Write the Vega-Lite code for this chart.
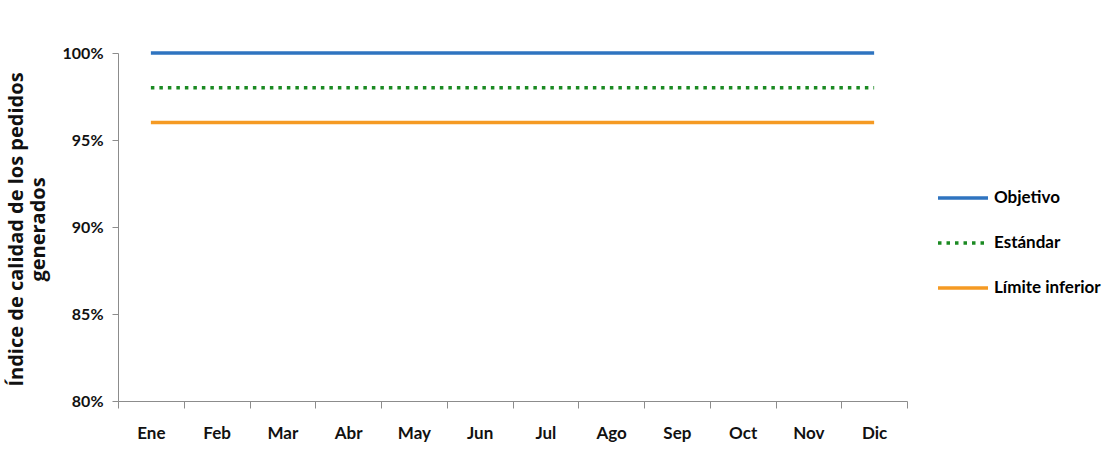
{
  "$schema": "https://vega.github.io/schema/vega-lite/v6.json",
  "autosize": {"type": "none"},
  "width": 789,
  "height": 348,
  "padding": {"left": 118, "top": 53, "right": 200, "bottom": 49},
  "background": "white",
  "config": {
    "view": {"stroke": null},
    "font": "Lato",
    "axis": {"grid": false, "domainColor": "#8c8c8c", "tickColor": "#8c8c8c", "labelFont": "Lato", "labelFontWeight": "bold", "labelColor": "#111111", "titleFont": "Open Sans"}
  },
  "data": {
    "values": [
      {"mes": "Ene", "serie": "Objetivo", "valor": 1.0},
      {"mes": "Feb", "serie": "Objetivo", "valor": 1.0},
      {"mes": "Mar", "serie": "Objetivo", "valor": 1.0},
      {"mes": "Abr", "serie": "Objetivo", "valor": 1.0},
      {"mes": "May", "serie": "Objetivo", "valor": 1.0},
      {"mes": "Jun", "serie": "Objetivo", "valor": 1.0},
      {"mes": "Jul", "serie": "Objetivo", "valor": 1.0},
      {"mes": "Ago", "serie": "Objetivo", "valor": 1.0},
      {"mes": "Sep", "serie": "Objetivo", "valor": 1.0},
      {"mes": "Oct", "serie": "Objetivo", "valor": 1.0},
      {"mes": "Nov", "serie": "Objetivo", "valor": 1.0},
      {"mes": "Dic", "serie": "Objetivo", "valor": 1.0},
      {"mes": "Ene", "serie": "Estándar", "valor": 0.98},
      {"mes": "Feb", "serie": "Estándar", "valor": 0.98},
      {"mes": "Mar", "serie": "Estándar", "valor": 0.98},
      {"mes": "Abr", "serie": "Estándar", "valor": 0.98},
      {"mes": "May", "serie": "Estándar", "valor": 0.98},
      {"mes": "Jun", "serie": "Estándar", "valor": 0.98},
      {"mes": "Jul", "serie": "Estándar", "valor": 0.98},
      {"mes": "Ago", "serie": "Estándar", "valor": 0.98},
      {"mes": "Sep", "serie": "Estándar", "valor": 0.98},
      {"mes": "Oct", "serie": "Estándar", "valor": 0.98},
      {"mes": "Nov", "serie": "Estándar", "valor": 0.98},
      {"mes": "Dic", "serie": "Estándar", "valor": 0.98},
      {"mes": "Ene", "serie": "Límite inferior", "valor": 0.96},
      {"mes": "Feb", "serie": "Límite inferior", "valor": 0.96},
      {"mes": "Mar", "serie": "Límite inferior", "valor": 0.96},
      {"mes": "Abr", "serie": "Límite inferior", "valor": 0.96},
      {"mes": "May", "serie": "Límite inferior", "valor": 0.96},
      {"mes": "Jun", "serie": "Límite inferior", "valor": 0.96},
      {"mes": "Jul", "serie": "Límite inferior", "valor": 0.96},
      {"mes": "Ago", "serie": "Límite inferior", "valor": 0.96},
      {"mes": "Sep", "serie": "Límite inferior", "valor": 0.96},
      {"mes": "Oct", "serie": "Límite inferior", "valor": 0.96},
      {"mes": "Nov", "serie": "Límite inferior", "valor": 0.96},
      {"mes": "Dic", "serie": "Límite inferior", "valor": 0.96}
    ]
  },
  "mark": {"type": "line", "strokeWidth": 3.5},
  "encoding": {
    "x": {
      "field": "mes", "type": "ordinal",
      "sort": ["Ene", "Feb", "Mar", "Abr", "May", "Jun", "Jul", "Ago", "Sep", "Oct", "Nov", "Dic"],
      "scale": {"type": "band", "paddingInner": 0, "paddingOuter": 0},
      "axis": {"title": null, "labelAngle": 0, "tickBand": "extent", "tickSize": 7, "labelPadding": 17, "labelFontSize": 17}
    },
    "y": {
      "field": "valor", "type": "quantitative",
      "scale": {"domain": [0.8, 1.0], "nice": false, "zero": false},
      "axis": {
        "values": [0.8, 0.85, 0.9, 0.95, 1.0], "format": ".0%",
        "tickSize": 6, "labelPadding": 9, "labelFontSize": 16,
        "title": ["Índice de calidad  de los pedidos", "generados"],
        "titleFontSize": 20, "titleFontWeight": "bold", "titleColor": "#111111",
        "titleAngle": -90, "titleX": -112, "titleY": 176, "titleAlign": "center", "titleBaseline": "top", "titleLineHeight": 22
      }
    },
    "color": {
      "field": "serie", "type": "nominal",
      "scale": {"domain": ["Objetivo", "Estándar", "Límite inferior"], "range": ["#2f74c0", "#1b8a22", "#f59a23"]},
      "legend": {
        "title": null, "orient": "none", "legendX": 818, "legendY": 118,
        "symbolType": "stroke", "symbolSize": 2500, "symbolStrokeWidth": 3.5,
        "labelFont": "Lato", "labelFontSize": 17, "labelFontWeight": "bold", "labelColor": "#000000",
        "labelOffset": 4, "rowPadding": 10
      }
    },
    "strokeDash": {
      "field": "serie", "type": "nominal",
      "scale": {"domain": ["Objetivo", "Estándar", "Límite inferior"], "range": [[1, 0], [3.5, 5], [1, 0]]},
      "legend": null
    }
  }
}
